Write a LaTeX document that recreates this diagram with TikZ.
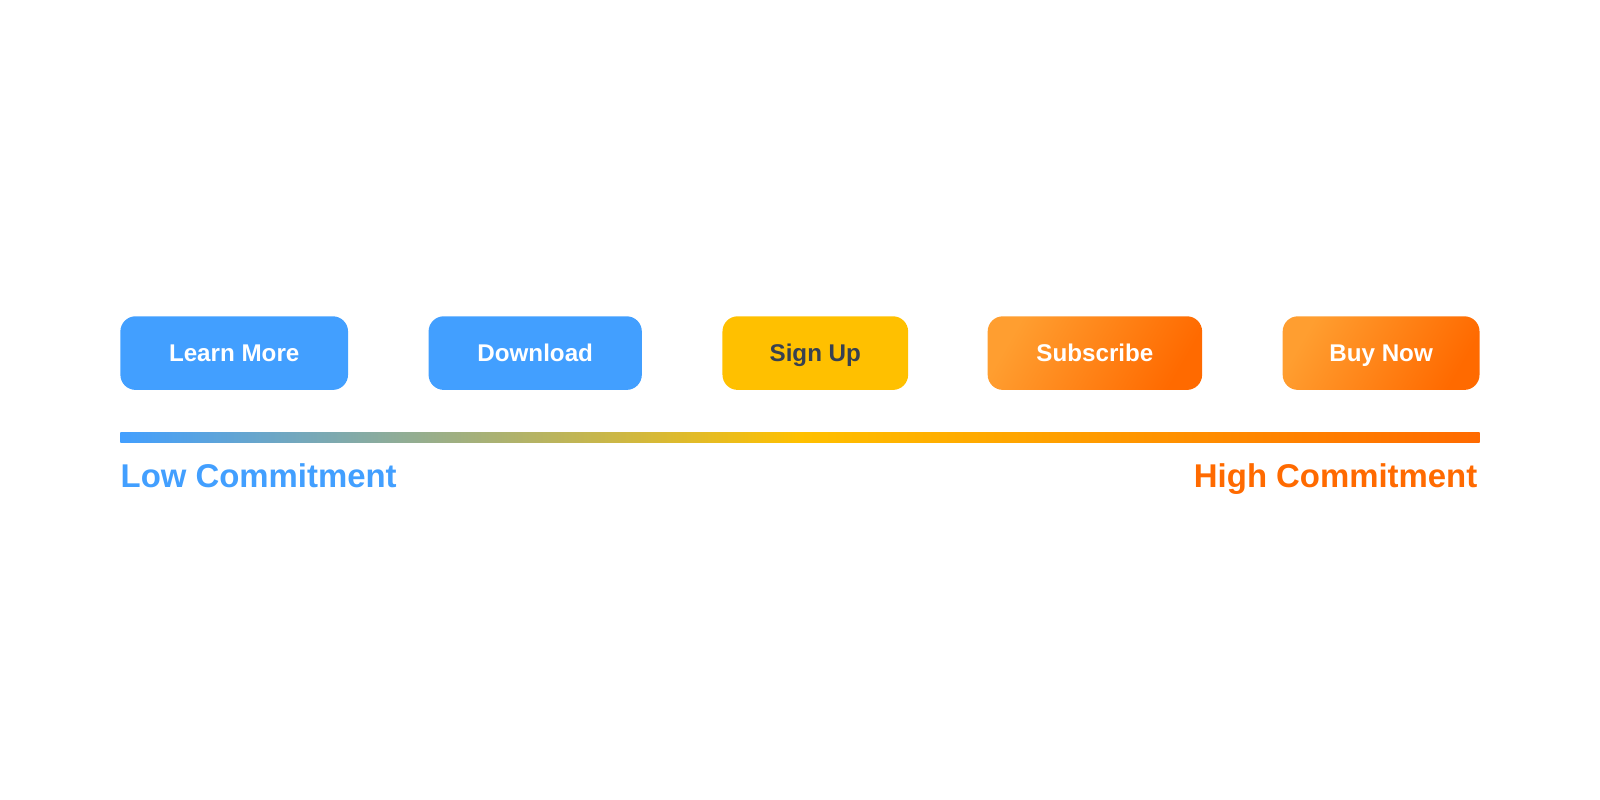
\documentclass[tikz,border=0pt]{standalone}
\usepackage{fontspec}
\setmainfont{Liberation Sans}
\usepackage{tikz}
\usetikzlibrary{positioning}
\definecolor{lowblue}{HTML}{429FFF}
\definecolor{midyellow}{HTML}{FFC000}
\definecolor{highorange}{HTML}{FF6A00}
\definecolor{lightorange}{HTML}{FF9E30}
\definecolor{slate}{HTML}{374151}
\pgfdeclarehorizontalshading{commitbar}{100bp}{color(0bp)=(lowblue); color(25bp)=(lowblue); color(50bp)=(midyellow); color(75bp)=(highorange); color(100bp)=(highorange)}

\begin{document}
\begin{tikzpicture}[x=0.025cm,y=-0.025cm,
    btn/.style={rounded corners=0.38cm,minimum height=1.84cm,inner sep=0pt,text height=12.3pt,text depth=0pt,font=\fontsize{17.2}{20}\selectfont\bfseries},
    btnblue/.style={btn,fill=lowblue,text=white},
    btnyellow/.style={btn,fill=midyellow,text=slate},
    btnorange/.style={btn,left color=lightorange,right color=highorange,shading angle=60,text=white},
    endlabel/.style={inner sep=0pt,font=\fontsize{23.4}{27}\selectfont\bfseries}]
              \useasboundingbox (0,0) rectangle (1600,800);
              \node[btnblue,minimum width=5.69cm](learn)at(234.2,353.1){Learn More};
              \node[btnblue,minimum width=5.33cm](download)at(535.2,353.1){Download};
              \node[btnyellow,minimum width=4.64cm](signup)at(815.3,353.1){Sign Up};
              \node[btnorange,minimum width=5.36cm](subscribe)at(1094.9,353.1){Subscribe};
              \node[btnorange,minimum width=4.92cm](buynow)at(1381.1,353.1){Buy Now};
              \shade[shading=commitbar](120.4,432.7)rectangle(1479.6,442.9);
              \node[endlabel,text=lowblue,anchor=base west](low)at(120.4,487.8){Low Commitment};
              \node[endlabel,text=highorange,anchor=base east](high)at(1477.6,487.8){High Commitment};
            \end{tikzpicture}
\end{document}
